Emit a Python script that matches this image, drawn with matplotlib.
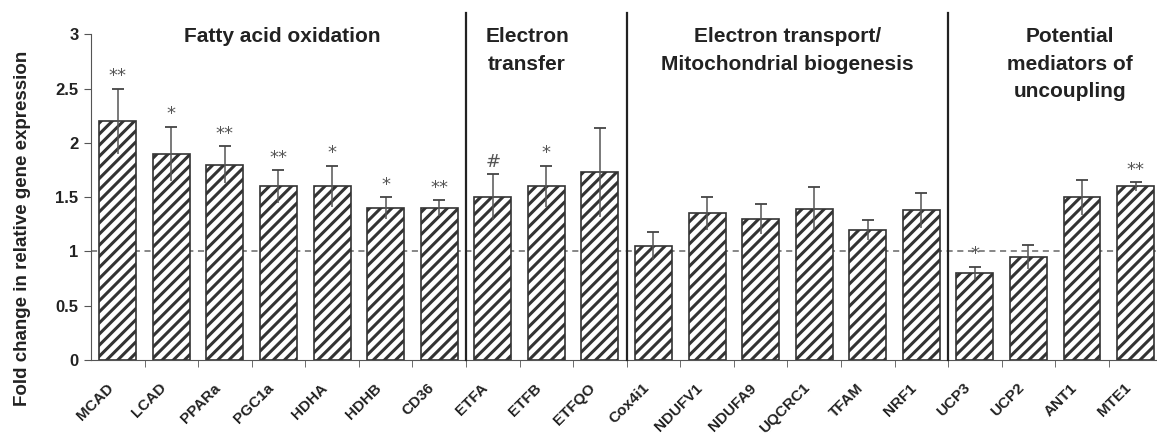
import numpy as np
from matplotlib import pyplot as plt

plt.rcParams['font.family'] = ['Liberation Sans', 'DejaVu Sans']
plt.rcParams['hatch.linewidth'] = 2.2

genes = ['MCAD', 'LCAD', 'PPARa', 'PGC1a', 'HDHA', 'HDHB', 'CD36',
         'ETFA', 'ETFB', 'ETFQO',
         'Cox4i1', 'NDUFV1', 'NDUFA9', 'UQCRC1', 'TFAM', 'NRF1',
         'UCP3', 'UCP2', 'ANT1', 'MTE1']
fold = [2.20, 1.90, 1.80, 1.60, 1.60, 1.40, 1.40,
        1.50, 1.60, 1.73,
        1.05, 1.35, 1.30, 1.39, 1.20, 1.38,
        0.80, 0.95, 1.50, 1.60]
err = [0.30, 0.25, 0.17, 0.15, 0.19, 0.10, 0.07,
       0.21, 0.19, 0.41,
       0.13, 0.15, 0.14, 0.20, 0.09, 0.16,
       0.06, 0.11, 0.16, 0.04]
marks = ['**', '*', '**', '**', '*', '*', '**',
         '#', '*', '',
         '', '', '', '', '', '',
         '*', '', '', '**']
groups = ['Fatty acid oxidation', 'Electron\ntransfer',
          'Electron transport/\nMitochondrial biogenesis',
          'Potential\nmediators of\nuncoupling']
group_sizes = [7, 3, 6, 4]
title_x = [3.07, 7.64, 12.5, 17.77]

x = np.arange(len(genes))
fold = np.array(fold)
err = np.array(err)

fig = plt.figure(figsize=(11.57, 4.33), dpi=100)
ax = fig.add_axes([91 / 1157, 73 / 433, (1157 - 91) / 1157, (360 - 12.7) / 433])

ax.bar(x, fold, width=0.69, color='white', edgecolor='#333333',
       linewidth=1.2, hatch='///', zorder=2)
ax.errorbar(x, fold, yerr=err, fmt='none', ecolor='#555555',
            elinewidth=1.1, capsize=0, zorder=3)
ax.plot(x, fold + err, linestyle='none', marker='_', markersize=9,
        markeredgewidth=1.3, color='#444444', zorder=3)
for xi, top, m in zip(x, fold + err, marks):
    if m:
        ax.text(xi, top + 0.03, m, ha='center', va='bottom',
                fontsize=13, color='#555555', family='DejaVu Sans')

ax.axhline(1.0, color='#666666', linestyle=(0, (4, 3)), linewidth=1.1, zorder=1)

# group dividers and titles
bounds = np.cumsum([0] + group_sizes) - 0.5
for b in bounds[1:-1]:
    ax.plot([b, b], [0, 3.2], color='#222222', linewidth=1.6, zorder=4,
            clip_on=False)
for g, cx in zip(groups, title_x):
    ax.text(cx, 3.065, g, ha='center', va='top', fontsize=15,
            fontweight='bold', color='#222222', linespacing=1.55)

ax.set_xlim(-0.5, 19.5 - 0.1)
ax.set_ylim(0, 3.2)
ax.set_yticks([0, 0.5, 1, 1.5, 2, 2.5, 3])
ax.set_yticklabels(['0', '0.5', '1', '1.5', '2', '2.5', '3'],
                   fontsize=12, fontweight='bold', color='#222222')
# labels sit a little left of the bar centres, as in the original
ax.set_xticks(x - 0.22)
ax.set_xticklabels(genes, rotation=45, ha='right', rotation_mode='anchor',
                   fontsize=11, fontweight='bold', color='#222222')
ax.tick_params(axis='x', length=0, pad=15)
ax.set_xticks(np.arange(0.5, 19.5, 1), minor=True)
ax.tick_params(axis='x', which='minor', length=5, color='#555555')
ax.tick_params(axis='y', length=5, color='#555555', pad=4)

for side in ['top', 'right']:
    ax.spines[side].set_visible(False)
ax.spines['left'].set_bounds(0, 3)
ax.spines['left'].set_color('#555555')
ax.spines['bottom'].set_color('#555555')

ax.set_ylabel('Fold change in relative gene expression', fontsize=13.5,
              fontweight='bold', color='#222222')
ax.yaxis.set_label_coords(-0.056, 0.38)

fig.savefig('out.png', dpi=100)
